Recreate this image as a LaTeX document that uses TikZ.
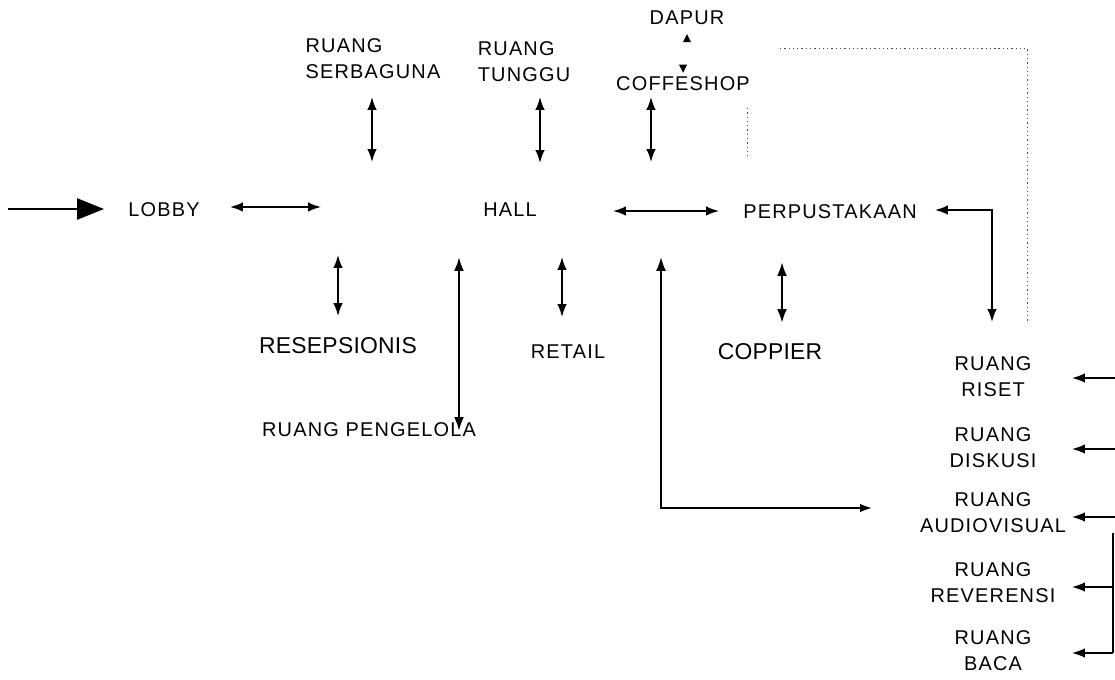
\documentclass[tikz,border=0pt]{standalone}
\usepackage{fontspec}
\setmainfont{Liberation Sans}[LetterSpace=6]
\usetikzlibrary{arrows.meta}
\begin{document}
\begin{tikzpicture}[x=1bp,y=-1bp,
  lbl/.style={font=\fontsize{20}{26}\selectfont, inner sep=0pt, align=center},
  lblb/.style={font=\fontsize{23}{26}\selectfont\addfontfeature{LetterSpace=1}, inner sep=0pt, align=center},
  dbl/.style={{Latex[length=13pt,width=9.5pt]}-{Latex[length=13pt,width=9.5pt]}, line width=1.6pt},
  dblthick/.style={{Latex[length=14pt,width=10pt]}-{Latex[length=14pt,width=10pt]}, line width=2.4pt},
  sgl/.style={-{Latex[length=13pt,width=9.5pt]}, line width=1.4pt},
  dots/.style={line width=1pt, dash pattern=on 1.3pt off 3pt, black!70}]
\useasboundingbox (0,0) rectangle (1115,680);

% nodes
\node[lbl] (lobby) at (164,210) {LOBBY};
\node[lbl] (hall) at (510,210) {HALL};
\node[lbl] (perpus) at (830,212) {PERPUSTAKAAN};
\node[lbl, align=left] (serba) at (373,59) {RUANG\\SERBAGUNA};
\node[lbl, align=left] (tunggu) at (524,62) {RUANG\\TUNGGU};
\node[lbl] (dapur) at (687,18) {DAPUR};
\node[lbl] (coffe) at (683,84) {COFFESHOP};
\node[lblb] (resep) at (338,346) {RESEPSIONIS};
\node[lbl] (kelola) at (369,430) {RUANG PENGELOLA};
\node[lbl] (retail) at (568,352) {RETAIL};
\node[lblb] (copy) at (770,352) {COPPIER};
\node[lbl] (riset) at (993,377) {RUANG\\RISET};
\node[lbl] (diskusi) at (993,448) {RUANG\\DISKUSI};
\node[lbl] (audio) at (993,513) {RUANG\\AUDIOVISUAL};
\node[lbl] (refer) at (993,583) {RUANG\\REVERENSI};
\node[lbl] (baca) at (993,651) {RUANG\\BACA};

% free ends
\coordinate (in0) at (8,209);
\coordinate (in1) at (104,209);
\coordinate (lh1) at (230,207);
\coordinate (lh2) at (321,207);
\coordinate (hp1) at (613,211);
\coordinate (hp2) at (719,211);
\coordinate (sb1) at (372,97);
\coordinate (sb2) at (372,162);
\coordinate (tg1) at (540,97);
\coordinate (tg2) at (540,163);
\coordinate (cf1) at (651,97);
\coordinate (cf2) at (651,162);
\coordinate (rs1) at (338,255);
\coordinate (rs2) at (338,316);
\coordinate (pg1) at (459,257);
\coordinate (pg2) at (459,431);
\coordinate (rt1) at (562,257);
\coordinate (rt2) at (562,317);
\coordinate (au1) at (661,257);
\coordinate (au2) at (661,508);
\coordinate (au3) at (872,508);
\coordinate (cp1) at (782,262);
\coordinate (cp2) at (782,323);
\coordinate (pr1) at (935,210);
\coordinate (pr2) at (992,210);
\coordinate (pr3) at (992,322);
\coordinate (rr) at (1116,378);
\coordinate (rd) at (1116,449);
\coordinate (ra) at (1116,517);
\coordinate (rv) at (1113,587);
\coordinate (rb) at (1113,653);
\coordinate (rvtop) at (1113,533);

% entry arrow
\draw[line width=2.6pt, -{Triangle[length=27pt,width=21pt]}] (in0) -- (in1);

% double arrows
\draw[dbl] (lh1) -- (lh2);
\draw[dbl] (hp1) -- (hp2);
\draw[dbl] (sb1) -- (sb2);
\draw[dbl] (tg1) -- (tg2);
\draw[dbl] (cf1) -- (cf2);
\draw[dbl] (rs1) -- (rs2);
\draw[dblthick] (pg1) -- (pg2);
\draw[dbl] (rt1) -- (rt2);
\draw[dblthick] (cp1) -- (cp2);
\draw[dbl] (pr1) -- (pr2) -- (pr3);
\draw[line width=1.8pt, {Latex[length=14pt,width=10pt]}-{Latex[length=12pt,width=8.5pt]}] (au1) -- (au2) -- (au3);

% dapur - coffeshop small heads
\fill (dapur.south) ++(0,9) -- ++(-4,8) -- ++(8,0) -- cycle;
\fill (coffe.north) ++(0,-4) -- ++(-4,-8) -- ++(8,0) -- cycle;

% dotted lines
\draw[dots] (747,108) -- (747,156);
\draw[dots] (780,48) -- (1027,48) -- (1027,322);

% right side arrows
\draw[sgl] (rr) -- (1072,378);
\draw[sgl] (rd) -- (1072,449);
\draw[sgl] (ra) -- (1072,517);
\draw[sgl] (rv) -- (1072,587);
\draw[sgl] (rb) -- (1072,653);
\draw[line width=1.4pt] (rvtop) -- (rb);
\end{tikzpicture}
\end{document}
